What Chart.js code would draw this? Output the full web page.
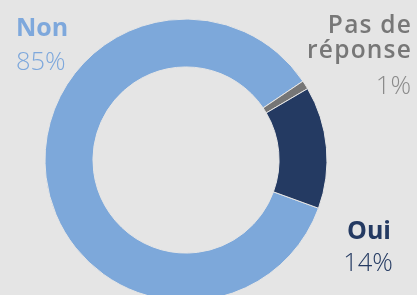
<!DOCTYPE html>
<html>
<head>
<meta charset="utf-8">
<script src="https://cdn.jsdelivr.net/npm/chart.js@4/dist/chart.umd.min.js"></script>
<style>
html,body{margin:0;padding:0;background:#e5e5e5;overflow:hidden;}
#wrap{position:relative;width:417px;height:301px;}
</style>
</head>
<body>
<div id="wrap"><canvas id="c"></canvas></div>
<script>
const categories = ["Non", "Pas de réponse", "Oui"];
const values = [85, 1, 14];
const valueLabels = ["85%", "1%", "14%"];
const colors = ["#7da8da", "#767676", "#243a62"];

const labelPlugin = {
  id: 'labels',
  afterDraw(chart) {
    const ctx = chart.ctx;
    ctx.save();
    ctx.textBaseline = 'alphabetic';
    // Non
    ctx.textAlign = 'left';
    ctx.fillStyle = '#7ea8dc';
    ctx.font = 'bold 25px "Open Sans"';
    ctx.fillText(categories[0], 16, 36);
    ctx.font = '300 25.5px "Open Sans"';
    ctx.fillText(valueLabels[0], 16, 70);
    // Pas de réponse
    ctx.textAlign = 'right';
    ctx.fillStyle = '#777777';
    ctx.font = '600 24.5px "Open Sans"';
    if ('letterSpacing' in ctx) ctx.letterSpacing = '1.2px';
    ctx.fillText('Pas de', 412, 32.5);
    ctx.fillText('réponse', 412, 58);
    if ('letterSpacing' in ctx) ctx.letterSpacing = '0px';
    ctx.fillStyle = '#8a8a8a';
    ctx.font = '300 25.5px "Open Sans"';
    ctx.fillText(valueLabels[1], 411, 94);
    // Oui
    ctx.textAlign = 'center';
    ctx.fillStyle = '#243a62';
    ctx.font = 'bold 25px "Open Sans"';
    ctx.fillText(categories[2], 369, 239);
    ctx.font = '300 25.5px "Open Sans"';
    ctx.fillText(valueLabels[2], 368, 271);
    ctx.restore();
  }
};

new Chart(document.getElementById('c'), {
  type: 'doughnut',
  data: {
    labels: categories,
    datasets: [{
      data: values,
      backgroundColor: colors,
      borderColor: '#e5e5e5',
      borderWidth: 1
    }]
  },
  options: {
    responsive: true,
    maintainAspectRatio: false,
    animation: false,
    rotation: 110,
    cutout: '66%',
    radius: 141,
    layout: { padding: { left: 45, right: 90, top: 19, bottom: 0 } },
    plugins: { legend: { display: false }, tooltip: { enabled: false } }
  },
  plugins: [labelPlugin]
});
</script>
</body>
</html>
